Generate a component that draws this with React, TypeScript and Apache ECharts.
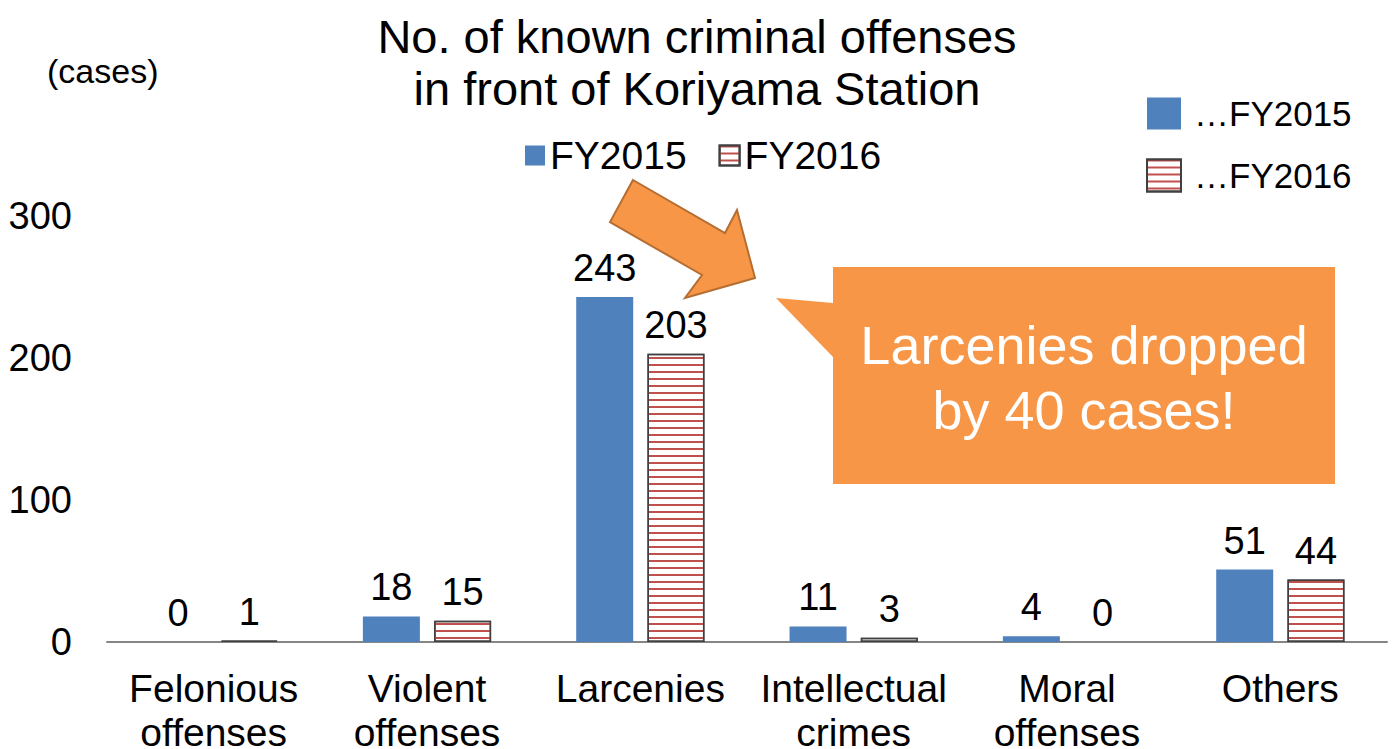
import React, { useEffect, useRef } from "react";
import * as echarts from "echarts";

const categories = [
  "Felonious\noffenses",
  "Violent\noffenses",
  "Larcenies",
  "Intellectual\ncrimes",
  "Moral\noffenses",
  "Others",
];
const fy2015 = [0, 18, 243, 11, 4, 51];
const fy2016 = [1, 15, 203, 3, 0, 44];
const yTicks = { min: 0, max: 300, interval: 100 };
const titleText = "No. of known criminal offenses\nin front of Koriyama Station";
const calloutText = "Larcenies dropped\nby 40 cases!";
const unitText = "(cases)";

const FONT = "Arial, 'Liberation Sans', sans-serif";
const BLUE = "#4f81bd";
const RED = "#c0504d";
const ORANGE = "#f79646";

export default function App() {
  const ref = useRef<HTMLDivElement>(null);
  useEffect(() => {
    document.body.style.margin = "0";
    const chart = echarts.init(ref.current!, undefined, { renderer: "svg" });
    const stripeDecal = {
      symbol: "rect",
      symbolSize: 1,
      dashArrayX: [1, 0],
      dashArrayY: [2, 5],
      rotation: 0,
      color: RED,
    };
    const labelStyle = { show: true, position: "top", distance: 10, fontSize: 38, color: "#000", fontFamily: FONT };
    chart.setOption({
      animation: false,
      textStyle: { fontFamily: FONT },
      title: {
        text: titleText,
        left: "center",
        top: 10,
        padding: 0,
        textStyle: { fontSize: 47, lineHeight: 52, fontWeight: "normal", color: "#000", fontFamily: FONT },
      },
      legend: [
        {
          left: 525,
          top: 136,
          padding: 0,
          icon: "rect",
          itemWidth: 20,
          itemHeight: 20,
          itemGap: 32,
          textStyle: { fontSize: 39, color: "#000", fontFamily: FONT },
          data: ["FY2015", "FY2016"],
        },
        {
          left: 1146,
          top: 96,
          orient: "vertical",
          padding: 0,
          icon: "rect",
          itemWidth: 34,
          itemHeight: 32,
          itemGap: 27,
          formatter: "…{name}",
          textStyle: { fontSize: 35, color: "#000", fontFamily: FONT, padding: [0, 0, 0, 8] },
          data: ["FY2015", "FY2016"],
        },
      ],
      grid: { left: 107, right: 7, top: 216, bottom: 107, containLabel: false, outerBoundsMode: "none" },
      xAxis: {
        type: "category",
        data: categories,
        axisLine: { show: true, lineStyle: { color: "#868686", width: 2 } },
        axisTick: { show: false },
        axisLabel: { interval: 0, fontSize: 39, lineHeight: 44, color: "#000", margin: 24, fontFamily: FONT },
      },
      yAxis: {
        type: "value",
        min: yTicks.min,
        max: yTicks.max,
        interval: yTicks.interval,
        axisLine: { show: false },
        axisTick: { show: false },
        splitLine: { show: false },
        axisLabel: { fontSize: 38, color: "#000", margin: 35, fontFamily: FONT },
      },
      series: [
        {
          name: "FY2015",
          type: "bar",
          data: fy2015,
          barWidth: 57,
          barGap: "25%",
          itemStyle: { color: BLUE },
          label: labelStyle,
        },
        {
          name: "FY2016",
          type: "bar",
          data: fy2016.map((v) => (v === 0 ? { value: v, itemStyle: { borderWidth: 0 } } : v)),
          barWidth: 57,
          barGap: "25%",
          itemStyle: { color: "#ffffff", borderColor: "#404040", borderWidth: 1.5, decal: stripeDecal },
          label: labelStyle,
        },
      ],
      graphic: [
        {
          type: "text",
          left: 47,
          top: 54,
          style: { text: unitText, fontSize: 34, fill: "#000", fontFamily: FONT },
        },
        {
          type: "polygon",
          shape: {
            points: [
              [633, 180],
              [725, 233],
              [737, 210],
              [755, 278],
              [685, 298],
              [702, 275],
              [610, 222],
            ],
          },
          style: { fill: ORANGE, stroke: "#b66d31", lineWidth: 2 },
        },
        {
          type: "polygon",
          shape: {
            points: [
              [833, 267],
              [1335, 267],
              [1335, 484],
              [833, 484],
              [833, 357],
              [776, 298],
              [833, 303],
            ],
          },
          style: { fill: ORANGE },
        },
        {
          type: "text",
          x: 1084,
          y: 377,
          style: {
            text: calloutText,
            fontSize: 54,
            lineHeight: 65,
            fill: "#fff",
            align: "center",
            verticalAlign: "middle",
            fontFamily: FONT,
          },
        },
      ],
    });
    return () => chart.dispose();
  }, []);
  return <div ref={ref} style={{ width: 1394, height: 749 }} />;
}
